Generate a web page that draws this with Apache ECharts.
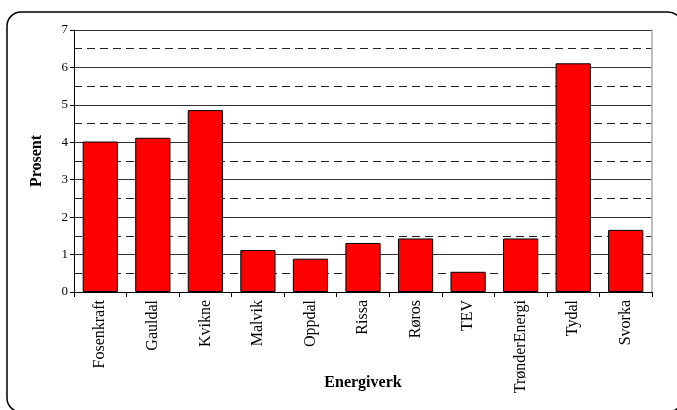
<!DOCTYPE html>
<html>
<head>
<meta charset="utf-8">
<script src="https://cdn.jsdelivr.net/npm/echarts@6/dist/echarts.min.js"></script>
<style>
  html, body { margin: 0; padding: 0; background: #fff; }
  #chart { width: 677px; height: 410px; }
</style>
</head>
<body>
<div id="chart"></div>
<script>
// Share (%) per power company
const categories = ['Fosenkraft', 'Gauldal', 'Kvikne', 'Malvik', 'Oppdal', 'Rissa', 'Røros', 'TEV', 'TrønderEnergi', 'Tydal', 'Svorka'];
const values = [4.02, 4.12, 4.86, 1.12, 0.89, 1.31, 1.43, 0.54, 1.43, 6.11, 1.66];
const yTicks = [0, 1, 2, 3, 4, 5, 6, 7];

const serif = '"Liberation Serif", "Times New Roman", serif';
const chart = echarts.init(document.getElementById('chart'));

chart.setOption({
  animation: false,
  backgroundColor: '#fff',
  graphic: [{
    type: 'rect',
    shape: { x: 7, y: 12, width: 675, height: 400, r: 14 },
    style: { fill: 'none', stroke: '#000', lineWidth: 1.5 },
    z: -1
  }],
  grid: { left: 74, right: 25, top: 30, bottom: 118, containLabel: false, outerBoundsMode: 'none' },
  xAxis: {
    type: 'category',
    data: categories,
    name: 'Energiverk',
    nameLocation: 'middle',
    nameGap: 83,
    nameMoveOverlap: false,
    nameTextStyle: { fontFamily: serif, fontWeight: 'bold', fontSize: 16, color: '#000' },
    axisLine: { lineStyle: { color: '#000', width: 1 } },
    axisTick: { show: true, length: 5, lineStyle: { color: '#000' } },
    axisLabel: { rotate: 90, margin: 8, fontFamily: serif, fontSize: 16, color: '#000', interval: 0 }
  },
  yAxis: [{
    type: 'value',
    min: yTicks[0],
    max: yTicks[yTicks.length - 1],
    interval: 1,
    name: 'Prosent',
    nameLocation: 'middle',
    nameGap: 29,
    nameMoveOverlap: false,
    nameTextStyle: { fontFamily: serif, fontWeight: 'bold', fontSize: 16, color: '#000' },
    axisLine: { show: true, lineStyle: { color: '#000', width: 1 } },
    axisTick: { show: true, length: 4, lineStyle: { color: '#000' } },
    axisLabel: { margin: 6, fontFamily: serif, fontSize: 13, color: '#000' },
    splitLine: { show: true, lineStyle: { color: '#333', width: 1 } },
    minorTick: { show: false, splitNumber: 2 },
    minorSplitLine: { show: true, lineStyle: { color: '#222', width: 1, type: [8, 5] } }
  }, {
    type: 'value',
    position: 'right',
    min: yTicks[0],
    max: yTicks[yTicks.length - 1],
    axisLine: { show: true, lineStyle: { color: '#aaa', width: 1.5 } },
    axisTick: { show: false },
    axisLabel: { show: false },
    splitLine: { show: false }
  }],
  series: [{
    type: 'bar',
    data: values,
    barCategoryGap: '33%',
    itemStyle: { color: '#ff0000', borderColor: '#000', borderWidth: 1 }
  }]
});
</script>
</body>
</html>
